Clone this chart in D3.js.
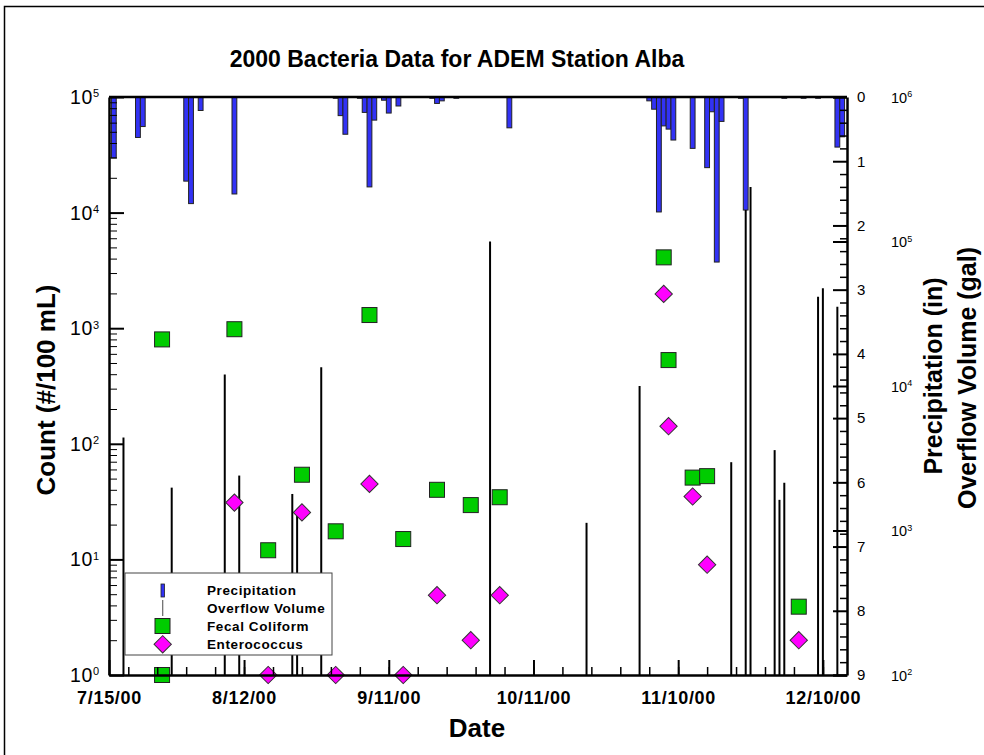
<!DOCTYPE html>
<html lang="en">
<head>
<meta charset="UTF-8">
<title>2000 Bacteria Data for ADEM Station Alba</title>
<script src="https://d3js.org/d3.v7.min.js"></script>
<style>
  body { margin: 0; background: #fff; }
  svg text { font-family: "Liberation Sans", Arial, sans-serif; fill: #000; }
  .axis path, .axis line { stroke: #000; }
</style>
</head>
<body>
<script>
const width = 984, height = 755;
const plotL = 109, plotR = 847, plotT = 97, plotB = 675;
const parse = d3.timeParse("%m/%d/%y");

// daily precipitation (in)
const precipDates = ["7/16/00","7/21/00","7/22/00","7/31/00","8/1/00","8/3/00","8/10/00",
  "8/31/00","9/1/00","9/2/00","9/5/00","9/6/00","9/7/00","9/8/00","9/10/00","9/11/00","9/13/00",
  "9/20/00","9/21/00","9/22/00","9/25/00","10/6/00",
  "11/4/00","11/5/00","11/6/00","11/7/00","11/8/00","11/9/00","11/13/00","11/16/00","11/17/00",
  "11/18/00","11/19/00","11/23/00","11/24/00","12/2/00","12/6/00","12/9/00","12/13/00","12/14/00"];
const precipValues = [0.95,0.63,0.46,1.31,1.66,0.21,1.51,
  0.02,0.29,0.58,0.02,0.24,1.40,0.36,0.05,0.25,0.14,
  0.02,0.10,0.06,0.02,0.48,
  0.06,0.19,1.79,0.45,0.50,0.67,0.80,1.10,0.23,
  2.57,0.38,0.02,1.76,0.02,0.02,0.02,0.78,0.62];

// overflow volume (gal)
const flowDates = ["7/18/00","7/28/00","8/8/00","8/11/00","8/22/00","8/23/00","8/28/00",
  "10/2/00","10/22/00","11/2/00","11/21/00","11/24/00","11/25/00",
  "11/30/00","12/1/00","12/2/00","12/9/00","12/10/00","12/13/00"];
const flowValues = [4400,1980,12000,2400,1790,1390,13500,
  100000,1130,10000,2970,165000,238000,
  3600,1630,2140,41500,47400,35400];

// fecal coliform (#/100 mL)
const fecalDates = ["7/26/00","7/26/00","8/10/00","8/17/00","8/24/00","8/31/00","9/7/00","9/14/00",
  "9/21/00","9/28/00","10/4/00","11/7/00","11/8/00","11/13/00","11/16/00","12/5/00"];
const fecalValues = [800,1,980,12,54,17.5,1300,15,40,29.5,34.5,4100,530,51,52.5,3.9];

// enterococcus (#/100 mL)
const enteroDates = ["8/10/00","8/17/00","8/24/00","8/31/00","9/7/00","9/14/00","9/21/00",
  "9/28/00","10/4/00","11/7/00","11/8/00","11/13/00","11/16/00","12/5/00"];
const enteroValues = [31,1,25.5,1,45,1,4.9,2,4.9,1980,142,35,9,2];

const xTickDates = ["7/15/00","8/12/00","9/11/00","10/11/00","11/10/00","12/10/00"];
const xTickLabels = ["7/15/00","8/12/00","9/11/00","10/11/00","11/10/00","12/10/00"];
const countTicks = [1,10,100,1000,10000,100000];
const countExps = ["0","1","2","3","4","5"];
const precipTicks = [0,1,2,3,4,5,6,7,8,9];
const flowTicks = [100,1000,10000,100000,1000000];
const flowExps = ["2","3","4","5","6"];

const svg = d3.select("body").append("svg").attr("width", width).attr("height", height);

// outer frame
svg.append("rect").attr("x", 4.5).attr("y", 6.5).attr("width", 1000).attr("height", 800)
  .attr("fill", "none").attr("stroke", "#000").attr("stroke-width", 1.5);

const x = d3.scaleTime().domain([parse("7/15/00"), parse("12/15/00")]).range([plotL, plotR]);
const yCount = d3.scaleLog().domain([1, 1e5]).range([plotB, plotT]);
const yPrecip = d3.scaleLinear().domain([0, 9]).range([plotT, plotB]);
const yFlow = d3.scaleLog().domain([1e2, 1e6]).range([plotB, plotT]);

const dayW = x(parse("7/16/00")) - x(parse("7/15/00"));

// precipitation bars hang from the top
svg.append("g").selectAll("rect")
  .data(precipDates.map((d, i) => [parse(d), precipValues[i]]))
  .join("rect")
  .attr("x", d => x(d[0]) - dayW / 2)
  .attr("width", dayW)
  .attr("y", plotT)
  .attr("height", d => yPrecip(d[1]) - plotT)
  .attr("fill", "#3232f5")
  .attr("stroke", "#222")
  .attr("stroke-width", 1);

// overflow lines
svg.append("g").selectAll("line")
  .data(flowDates.map((d, i) => [parse(d), flowValues[i]]))
  .join("line")
  .attr("x1", d => x(d[0])).attr("x2", d => x(d[0]))
  .attr("y1", plotB).attr("y2", d => yFlow(d[1]))
  .attr("stroke", "#000").attr("stroke-width", 2);

// fecal coliform squares
svg.append("g").selectAll("rect")
  .data(fecalDates.map((d, i) => [parse(d), fecalValues[i]]))
  .join("rect")
  .attr("x", d => x(d[0]) - 7.5).attr("y", d => yCount(d[1]) - 7.5)
  .attr("width", 15).attr("height", 15)
  .attr("fill", "#00cc00").attr("stroke", "#222").attr("stroke-width", 1);

// enterococcus diamonds
const diamond = d3.symbol(d3.symbolSquare, 150);
svg.append("g").selectAll("path")
  .data(enteroDates.map((d, i) => [parse(d), enteroValues[i]]))
  .join("path")
  .attr("d", diamond)
  .attr("transform", d => `translate(${x(d[0])},${yCount(d[1])}) rotate(45)`)
  .attr("fill", "#ff00ff").attr("stroke", "#333").attr("stroke-width", 1);

// legend
const lg = svg.append("g").attr("transform", "translate(125,573)");
lg.append("rect").attr("width", 207).attr("height", 82)
  .attr("fill", "#fff").attr("stroke", "#444").attr("stroke-width", 1);
lg.append("rect").attr("x", 36).attr("y", 11).attr("width", 3.5).attr("height", 13)
  .attr("fill", "#3232f5").attr("stroke", "#222").attr("stroke-width", 0.8);
lg.append("line").attr("x1", 37.7).attr("x2", 37.7).attr("y1", 27).attr("y2", 43)
  .attr("stroke", "#666").attr("stroke-width", 1.2);
lg.append("rect").attr("x", 30).attr("y", 45.5).attr("width", 15).attr("height", 15)
  .attr("fill", "#00cc00").attr("stroke", "#222");
lg.append("path").attr("d", diamond).attr("transform", "translate(37.7,71.3) rotate(45)")
  .attr("fill", "#ff00ff").attr("stroke", "#333");
["Precipitation", "Overflow Volume", "Fecal Coliform", "Enterococcus"].forEach((t, i) => {
  lg.append("text").attr("x", 82).attr("y", 17 + i * 18.1).attr("dy", "0.35em")
    .attr("font-size", 13.5).attr("font-weight", "bold").attr("letter-spacing", 0.6).text(t);
});

// axes
const minorCount = [];
countTicks.slice(0, -1).forEach(t => { for (let k = 2; k < 10; k++) minorCount.push(t * k); });

svg.append("g").attr("class", "axis").attr("transform", `translate(${plotL},0)`)
  .call(d3.axisLeft(yCount).tickValues(minorCount).tickSize(-8).tickSizeOuter(0).tickFormat(""))
  .call(g => g.select(".domain").remove());
svg.append("g").attr("class", "axis").attr("transform", `translate(${plotL},0)`)
  .call(d3.axisLeft(yCount).tickValues(countTicks).tickSize(-15).tickSizeOuter(0).tickFormat(""))
  .call(g => g.select(".domain").attr("stroke-width", 2.5))
  .call(g => g.selectAll(".tick line").attr("stroke-width", 2));

const cl = svg.append("g");
countTicks.forEach((t, i) => {
  const tx = cl.append("text").attr("x", 99).attr("y", yCount(t)).attr("dy", "0.36em")
    .attr("text-anchor", "end").attr("font-size", 19.5);
  tx.append("tspan").attr("letter-spacing", 0.6).text("10");
  tx.append("tspan").attr("dy", "-0.6em").attr("font-size", 11).text(countExps[i]);
});

// x axis
const minorX = d3.timeDay.range(parse("7/19/00"), parse("12/15/00"), 1)
  .filter(d => Math.round((d - parse("8/12/00")) / 864e5) % 6 === 0);
svg.append("g").attr("class", "axis").attr("transform", `translate(0,${plotB})`)
  .call(d3.axisBottom(x).tickValues(minorX).tickSize(-8).tickSizeOuter(0).tickFormat(""))
  .call(g => g.select(".domain").remove())
  .call(g => g.selectAll(".tick line").attr("stroke-width", 1.5));
svg.append("g").attr("class", "axis").attr("transform", `translate(0,${plotB})`)
  .call(d3.axisBottom(x).tickValues(xTickDates.map(parse)).tickSize(-15).tickSizeOuter(0)
    .tickPadding(16).tickFormat((d, i) => xTickLabels[i]))
  .call(g => g.select(".domain").attr("stroke-width", 2.5))
  .call(g => g.selectAll(".tick line").attr("stroke-width", 2))
  .call(g => g.selectAll("text").attr("font-size", 18).attr("font-weight", "bold")
    .attr("letter-spacing", 0.7).attr("font-family", "'Liberation Sans', Arial, sans-serif"));

// top frame line
svg.append("line").attr("x1", plotL).attr("x2", plotR).attr("y1", plotT).attr("y2", plotT)
  .attr("stroke", "#000").attr("stroke-width", 2.5);

// right axes: precipitation + overflow volume
const minorP = d3.range(0, 9.01, 0.2).filter(v => Math.abs(v - Math.round(v)) > 0.01);
svg.append("g").attr("class", "axis").attr("transform", `translate(${plotR},0)`)
  .call(d3.axisRight(yPrecip).tickValues(minorP).tickSize(-7).tickSizeOuter(0).tickFormat(""))
  .call(g => g.select(".domain").remove())
  .call(g => g.selectAll(".tick line").attr("stroke-width", 1.5));
svg.append("g").attr("class", "axis").attr("transform", `translate(${plotR},0)`)
  .call(d3.axisRight(yFlow).tickValues(flowTicks).tickSize(-14).tickSizeOuter(0).tickFormat(""))
  .call(g => g.select(".domain").remove())
  .call(g => g.selectAll(".tick line").attr("stroke-width", 2));
svg.append("g").attr("class", "axis").attr("transform", `translate(${plotR},0)`)
  .call(d3.axisRight(yPrecip).tickValues(precipTicks).tickSize(-14).tickSizeOuter(0)
    .tickPadding(10).tickFormat(d3.format("d")))
  .call(g => g.select(".domain").attr("stroke-width", 2.5))
  .call(g => g.selectAll(".tick line").attr("stroke-width", 2))
  .call(g => g.selectAll("text").attr("font-size", 15).attr("fill", "#333")
    .attr("font-family", "'Liberation Sans', Arial, sans-serif"));

const fl = svg.append("g");
flowTicks.forEach((t, i) => {
  const tx = fl.append("text").attr("x", 891).attr("y", yFlow(t)).attr("dy", "0.38em")
    .attr("font-size", 14.5).attr("fill", "#333");
  tx.append("tspan").text("10");
  tx.append("tspan").attr("dy", "-0.6em").attr("font-size", 9).text(flowExps[i]);
});

// titles
svg.append("text").attr("x", 457).attr("y", 67).attr("text-anchor", "middle")
  .attr("font-size", 23).attr("font-weight", "bold").text("2000 Bacteria Data for ADEM Station Alba");
svg.append("text").attr("x", 477).attr("y", 737).attr("text-anchor", "middle")
  .attr("font-size", 26).attr("font-weight", "bold").text("Date");
svg.append("text").attr("transform", "translate(55,390) rotate(-90)").attr("text-anchor", "middle")
  .attr("font-size", 26).attr("font-weight", "bold").text("Count (#/100 mL)");
svg.append("text").attr("transform", "translate(942,376) rotate(-90)").attr("text-anchor", "middle")
  .attr("font-size", 25).attr("font-weight", "bold").text("Precipitation (in)");
svg.append("text").attr("transform", "translate(976,378) rotate(-90)").attr("text-anchor", "middle")
  .attr("font-size", 25).attr("font-weight", "bold").text("Overflow Volume (gal)");
</script>
</body>
</html>
